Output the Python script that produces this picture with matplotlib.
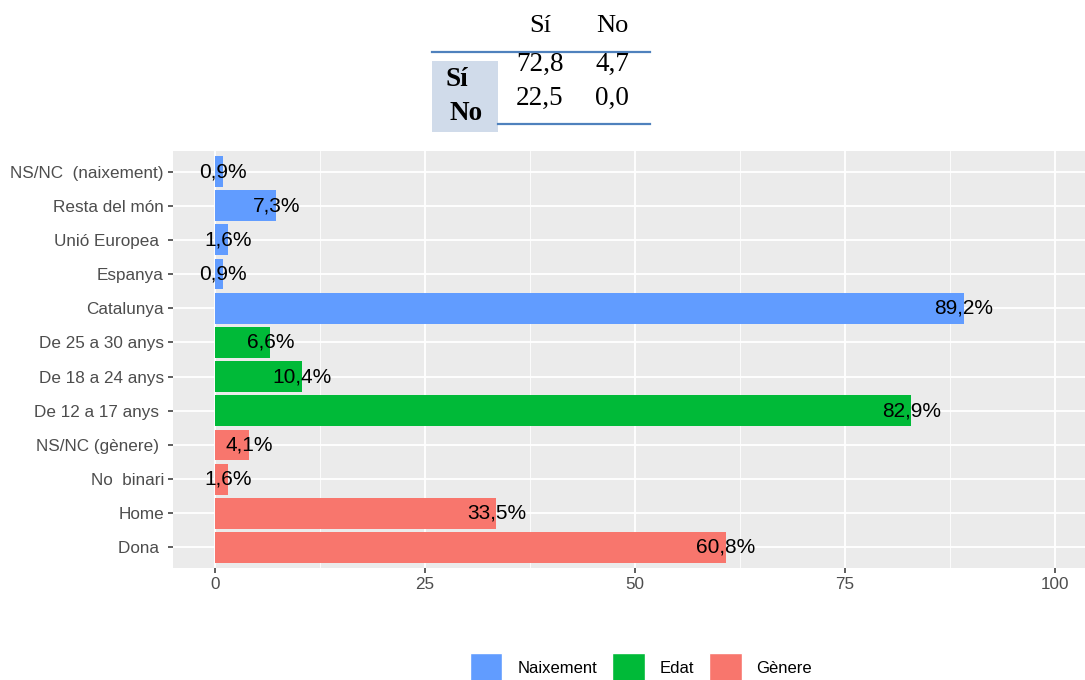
import matplotlib.pyplot as plt
from matplotlib.patches import Patch, Rectangle
from matplotlib.lines import Line2D
import numpy as np

# categories from bottom to top
labels = ["Dona ", "Home", "No  binari", "NS/NC (gènere) ",
          "De 12 a 17 anys ", "De 18 a 24 anys", "De 25 a 30 anys",
          "Catalunya", "Espanya", "Unió Europea ", "Resta del món", "NS/NC  (naixement)"]
values = [60.8, 33.5, 1.6, 4.1, 82.9, 10.4, 6.6, 89.2, 0.9, 1.6, 7.3, 0.9]
groups = ["Gènere"] * 4 + ["Edat"] * 3 + ["Naixement"] * 5

group_names = ["Naixement", "Edat", "Gènere"]
group_colors = {"Naixement": "#619CFF", "Edat": "#00BA38", "Gènere": "#F8766D"}

# small cross table at the top
tab_cols = ["Sí", "No"]
tab_rows = ["Sí", "No"]
tab_vals = [[72.8, 4.7], [22.5, 0.0]]

W, H = 1085, 680
fig = plt.figure(figsize=(W / 100, H / 100), dpi=100)
fig.patch.set_facecolor("white")

def px(x, y):
    return x / W, 1 - y / H

ax = fig.add_axes([173 / W, (H - 568) / H, (1085 - 173) / W, (568 - 151) / H])
ax.set_facecolor("#EBEBEB")
for s in ax.spines.values():
    s.set_visible(False)

y = np.arange(len(labels))
cols = [group_colors[g] for g in groups]
ax.barh(y, values, height=0.9, color=cols, zorder=3)

for yi, v in zip(y, values):
    ax.text(v, yi, f"{v:.1f}".replace(".", ",") + "%", ha="center", va="center",
            fontsize=15, color="black", family="Liberation Sans", zorder=4)

ax.set_xlim(-5, 103.6)
ax.set_ylim(-0.6, len(labels) - 0.4)
ax.set_xticks([0, 25, 50, 75, 100])
ax.set_xticks([12.5, 37.5, 62.5, 87.5], minor=True)
ax.set_yticks(y)
ax.set_yticklabels(labels)
ax.grid(which="major", color="white", linewidth=1.3, zorder=1)
ax.grid(which="minor", axis="x", color="white", linewidth=0.6, zorder=1)
ax.tick_params(axis="both", which="major", length=3.5, width=1.1, color="#333333",
               labelcolor="#4D4D4D", labelsize=12.3, pad=3)
ax.tick_params(axis="both", which="minor", length=0)
for t in ax.get_xticklabels() + ax.get_yticklabels():
    t.set_family("Liberation Sans")
ax.set_axisbelow(True)

# legend
handles = [Patch(facecolor=group_colors[g], edgecolor="white", linewidth=1) for g in group_names]
fig.legend(handles, group_names, loc="center", bbox_to_anchor=px(641, 668), ncol=3,
           frameon=False, prop={"family": "Liberation Sans", "size": 12},
           handlelength=1.95, handleheight=2.4, handletextpad=0.9, columnspacing=0.9)

# cross table
serif = "Liberation Serif"
fig.add_artist(Rectangle(px(432, 132), 66 / W, 71 / H, transform=fig.transFigure,
                         facecolor="#D0DBEA", edgecolor="none"))
fig.add_artist(Line2D([432 / W, 650 / W], [1 - 52 / H] * 2, transform=fig.transFigure,
                      color="#4F81BD", linewidth=1.6))
fig.add_artist(Line2D([498 / W, 650 / W], [1 - 124 / H] * 2, transform=fig.transFigure,
                      color="#4F81BD", linewidth=1.6))
col_x = [540, 612]
row_y = [64, 98]
for cx, c in zip(col_x, tab_cols):
    fig.text(*px(cx, 26), c, ha="center", va="center", fontsize=19, family=serif)
for ry, row in zip(row_y, tab_vals):
    for cx, v in zip(col_x, row):
        fig.text(*px(cx, ry), f"{v:.1f}".replace(".", ","), ha="center", va="center",
                 fontsize=19.5, family=serif)
fig.text(*px(457, 79), tab_rows[0], ha="center", va="center", fontsize=19.5,
         family=serif, fontweight="bold")
fig.text(*px(466, 113), tab_rows[1], ha="center", va="center", fontsize=19.5,
         family=serif, fontweight="bold")

fig.savefig("out.png", dpi=100)
